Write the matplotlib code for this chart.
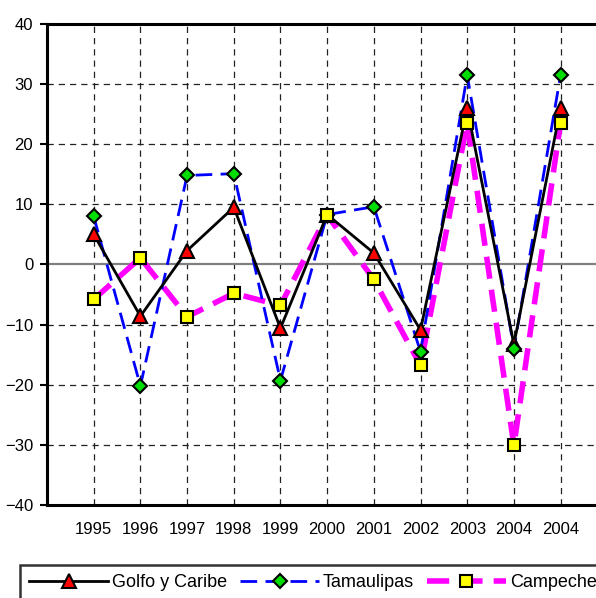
import numpy as np
import matplotlib
matplotlib.use("Agg")
import matplotlib.pyplot as plt
from matplotlib.lines import Line2D

plt.rcParams['font.family'] = ['Liberation Sans', 'DejaVu Sans']

# data
years = ['1995', '1996', '1997', '1998', '1999', '2000', '2001', '2002', '2003', '2004', '2004']
golfo = [5.0, -8.6, 2.3, 9.5, -10.6, 8.3, 1.9, -10.9, 26.0, -13.3, 26.0]
tamaulipas = [8.0, -20.2, 14.8, 15.1, -19.3, 8.3, 9.6, -14.5, 31.5, -14.0, 31.5]
campeche = [-5.8, 1.1, -8.7, -4.8, -6.8, 8.2, -2.5, -16.8, 23.6, -30.1, 23.6]

x = np.arange(1, len(years) + 1)

fig = plt.figure(figsize=(5.96, 5.98), dpi=100)
ax = fig.add_axes([0.0789, 0.1555, 0.94, 0.8045])

# grid
for xi in x:
    ax.axvline(xi, color='#222222', lw=0.9, ls=(0, (5, 4)), zorder=1)
for yv in [-30, -20, -10, 10, 20, 30]:
    ax.axhline(yv, color='#222222', lw=0.9, ls=(0, (5, 4)), zorder=1)
ax.axhline(0, color='#808080', lw=1.6, zorder=1.5)

# lines
ax.plot(x, campeche, color='#ff00ff', lw=4, ls=(0, (4, 2)), zorder=2)
ax.plot(x, tamaulipas, color='#0000ff', lw=2, ls=(0, (6, 3)), zorder=3)
ax.plot(x, golfo, color='black', lw=2, zorder=4)

# markers
ax.plot(x, golfo, ls='none', marker='^', ms=10, mfc='red', mec='black', mew=1.5, zorder=5)
ax.plot(x, tamaulipas, ls='none', marker='D', ms=7, mfc='#00dd00', mec='black', mew=1.5, zorder=6)
ax.plot(x, campeche, ls='none', marker='s', ms=9, mfc='#ffff00', mec='black', mew=1.5, zorder=7)

ax.set_xlim(0, 12)
ax.set_ylim(-40, 40)
ax.set_yticks(np.arange(-40, 41, 10))
ax.set_xticks(x)
ax.set_xticklabels(years)
ax.tick_params(axis='y', direction='out', length=5, width=1.5, labelsize=12, pad=5)
ax.tick_params(axis='x', length=0, labelsize=12, pad=12)
for s in ['left', 'top', 'bottom', 'right']:
    ax.spines[s].set_linewidth(2.2)

# legend strip at the bottom (runs past the right edge like the original)
handles = [
    Line2D([], [], color='black', lw=2, marker='^', ms=10, mfc='red', mec='black', mew=1.5),
    Line2D([], [], color='#0000ff', lw=2, ls=(0, (6, 3)), marker='D', ms=7, mfc='#00dd00', mec='black', mew=1.5),
    Line2D([], [], color='#ff00ff', lw=4, ls=(0, (4, 2)), marker='s', ms=9, mfc='#ffff00', mec='black', mew=1.5),
]
leg = fig.legend(handles, ['Golfo y Caribe', 'Tamaulipas', 'Campeche'],
                 loc='upper left', bbox_to_anchor=(20 / 596, 1 - 565 / 598),
                 ncol=3, fontsize=13, frameon=True, fancybox=False,
                 handlelength=4.4, handletextpad=0.2, columnspacing=0.7,
                 borderpad=0.5, borderaxespad=0, numpoints=1)
leg.get_frame().set_edgecolor('black')
leg.get_frame().set_linewidth(1.8)

fig.savefig('out.png', dpi=100)
